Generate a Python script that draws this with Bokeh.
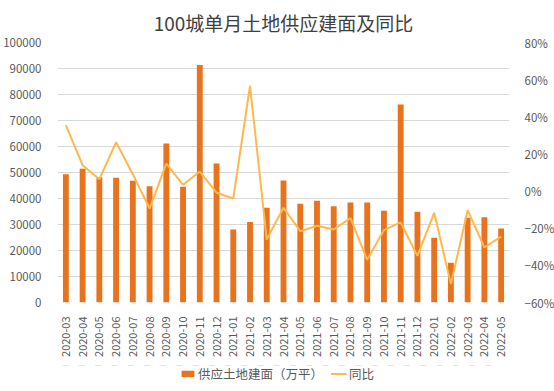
from bokeh.plotting import figure
from bokeh.models import (FactorRange, Range1d, LinearAxis, FixedTicker, NumeralTickFormatter,
                          Legend, LegendItem, ColumnDataSource)
from bokeh.layouts import column
from bokeh.embed import file_html
from bokeh.resources import INLINE
import math

months = ["2020-03", "2020-04", "2020-05", "2020-06", "2020-07", "2020-08", "2020-09",
          "2020-10", "2020-11", "2020-12", "2021-01", "2021-02", "2021-03", "2021-04",
          "2021-05", "2021-06", "2021-07", "2021-08", "2021-09", "2021-10", "2021-11",
          "2021-12", "2022-01", "2022-02", "2022-03", "2022-04", "2022-05"]
supply = [49300, 51400, 48200, 47950, 46800, 44750, 61150, 44500, 91300, 53450, 28070,
          31000, 36400, 46900, 37950, 39100, 37050, 38450, 38450, 35250, 76150, 34870,
          24870, 15250, 32560, 32820, 28460]
yoy_pct = [35.5, 13.9, 6.4, 26.3, 9.1, -9.4, 14.8, 3.4, 10.5, -0.9, -4.0, 56.7, -26.1,
           -9.0, -21.6, -18.7, -20.7, -14.6, -37.0, -21.0, -16.9, -34.9, -11.7, -50.1,
           -10.3, -30.4, -24.5]
left_ticks = [0, 10000, 20000, 30000, 40000, 50000, 60000, 70000, 80000, 90000, 100000]
right_ticks = [-60, -40, -20, 0, 20, 40, 60, 80]
right_labels = {t: ("\u2212%d%%" % -t if t < 0 else "%d%%" % t) for t in right_ticks}

title_text = "100城单月土地供应建面及同比"
bar_label = "供应土地建面（万平）"
line_label = "同比"

FONT = "Noto Sans CJK SC"
TXT = "#595959"
BAR = "#E8731C"
LINE = "#FFB84D"

src = ColumnDataSource(dict(m=months, s=supply, y=yoy_pct))

p = figure(x_range=FactorRange(*months, range_padding=0),
           y_range=Range1d(0, 100000),
           frame_width=452, frame_height=260,
           min_border_left=50, min_border_right=42, min_border_top=10, min_border_bottom=63,
           output_backend="svg", toolbar_location=None, title=title_text)
p.extra_y_ranges = {"pct": Range1d(-60, 80)}

p.title.align = "center"
p.title.text_font = FONT
p.title.text_font_size = "19px"
p.title.text_font_style = "normal"
p.title.text_color = "#404040"
p.title.standoff = 13

p.outline_line_color = None
p.background_fill_color = "white"
p.border_fill_color = "white"
p.xgrid.grid_line_color = None
p.ygrid.grid_line_color = "#D9D9D9"
p.ygrid.ticker = FixedTicker(ticks=left_ticks)

ya = p.yaxis[0]
ya.ticker = FixedTicker(ticks=left_ticks)
ya.formatter = NumeralTickFormatter(format="0")

ra = LinearAxis(y_range_name="pct", ticker=FixedTicker(ticks=right_ticks))
ra.major_label_overrides = right_labels
p.add_layout(ra, "right")

for ax in [p.xaxis[0], ya, ra]:
    ax.axis_line_color = None
    ax.major_tick_line_color = None
    ax.minor_tick_line_color = None
    ax.major_label_text_font = FONT
    ax.major_label_text_font_size = "11.5px"
    ax.major_label_text_color = TXT
ya.major_label_standoff = 10
ra.major_label_standoff = 9
p.xaxis[0].major_label_orientation = math.pi / 2
p.xaxis[0].major_label_standoff = 8
p.xaxis[0].major_label_text_font_size = "11px"

p.vbar(x="m", top="s", width=0.35, source=src, fill_color=BAR, line_color=None)
p.line(x="m", y="y", y_range_name="pct", source=src, line_color=LINE, line_width=2)

# legend strip below the chart; proxy renderers use the same data but fall outside
# this strip's visible range, so only their legend glyphs show
lf = figure(width=544, height=16, x_range=FactorRange(*months), y_range=Range1d(-2, -1),
            min_border_left=0, min_border_right=0, min_border_top=0, min_border_bottom=0,
            x_axis_type=None, y_axis_type=None, output_backend="svg", toolbar_location=None)
lf.outline_line_color = None
lf.background_fill_color = "white"
lf.border_fill_color = "white"
lf.xgrid.visible = False
lf.ygrid.visible = False
bar_proxy = lf.vbar(x="m", top="s", width=0.35, source=src, fill_color=BAR, line_color=None)
line_proxy = lf.line(x="m", y="s", source=src, line_color=LINE, line_width=2)

legend = Legend(items=[LegendItem(label=bar_label, renderers=[bar_proxy]),
                       LegendItem(label=line_label, renderers=[line_proxy])],
                orientation="horizontal", location="center",
                glyph_width=16, glyph_height=8, label_height=16,
                label_standoff=3, spacing=7, padding=0, margin=0,
                label_text_font=FONT, label_text_font_size="12.5px", label_text_color=TXT,
                border_line_color=None, background_fill_alpha=0)
lf.add_layout(legend, "center")

layout = column(p, lf, spacing=0)
open("out.html", "w").write(file_html(layout, INLINE))
